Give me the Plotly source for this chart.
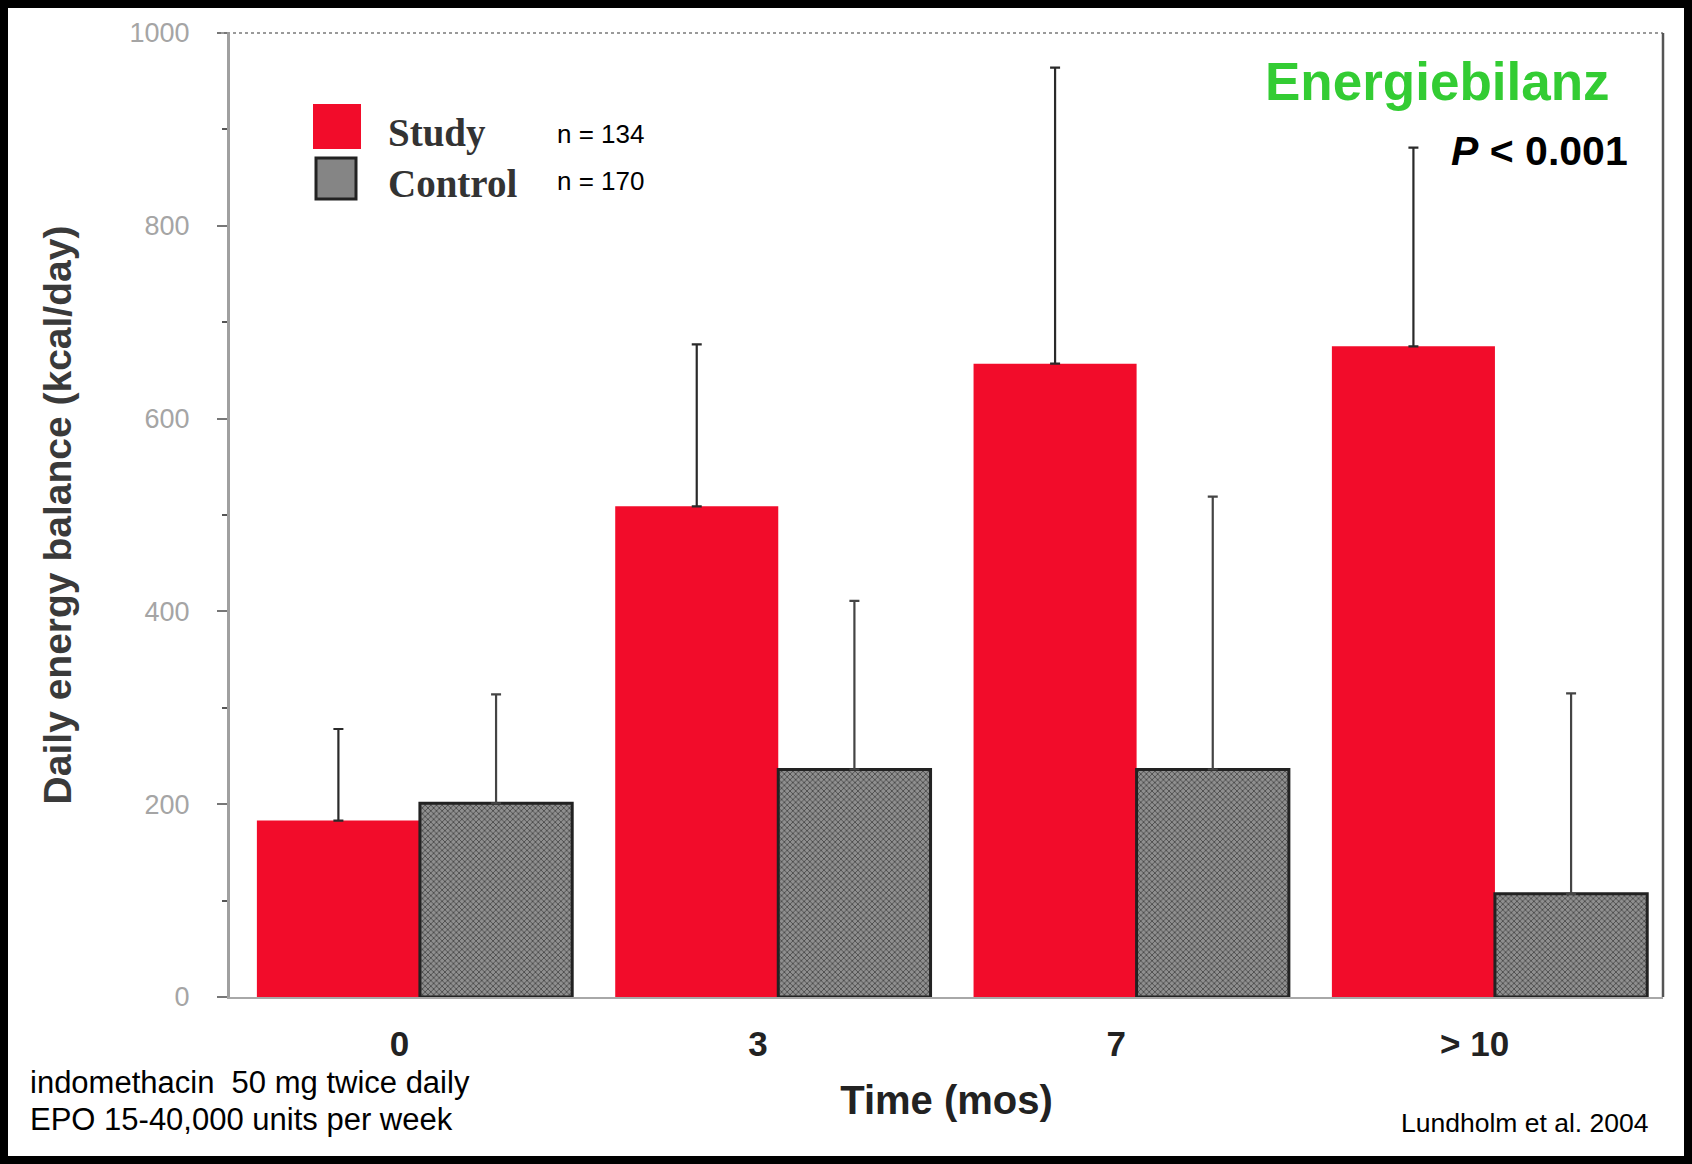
import plotly.graph_objects as go

# ---- data ----
categories = ["0", "3", "7", "> 10"]
study_values = [183, 509, 657, 675]
study_err = [95, 168, 307, 206]
control_values = [201, 236, 236, 107]
control_err = [113, 175, 283, 208]
y_ticks = [0, 200, 400, 600, 800, 1000]

RED = "#F20C2A"
SANS = "Liberation Sans, Arial, sans-serif"
SERIF = "Liberation Serif, Times New Roman, serif"

fig = go.Figure()
fig.add_trace(go.Bar(
    name="Study", x=categories, y=study_values,
    offset=-0.44, width=0.455,
    marker=dict(color=RED, line=dict(width=0)),
    error_y=dict(type="data", array=study_err, arrayminus=[0]*4, symmetric=False,
                 color="#2a2a2a", thickness=2.2, width=5),
))
fig.add_trace(go.Bar(
    name="Control", x=categories, y=control_values,
    offset=0.015, width=0.425,
    marker=dict(color="#8a8a8a", line=dict(color="#222222", width=3),
                pattern=dict(shape="x", size=4, solidity=0.4,
                             fgcolor="#4a4a4a", bgcolor="#8f8f8f")),
    error_y=dict(type="data", array=control_err, arrayminus=[0]*4, symmetric=False,
                 color="#444444", thickness=2.2, width=5),
))

L, R, T, B = 230, 29, 33, 167
W, H = 1692, 1164
pw, ph = W - L - R, H - T - B

def px(x):
    return (x - L) / pw

def py(y):
    return (H - B - y) / ph

shapes = [
    # outer black frame
    dict(type="rect", xref="paper", yref="paper", x0=px(0), x1=px(W), y0=py(H), y1=py(0),
         line=dict(color="black", width=16), fillcolor="rgba(0,0,0,0)", layer="above"),
    # top frame line
    dict(type="line", xref="paper", yref="paper", x0=px(221), x1=1, y0=1, y1=1,
         line=dict(color="#9a9a9a", width=2, dash="dot")),
    # right frame line
    dict(type="line", xref="paper", yref="paper", x0=1, x1=1, y0=0, y1=1,
         line=dict(color="#555555", width=2.5)),
    # legend swatches
    dict(type="rect", xref="paper", yref="paper", x0=px(313), x1=px(361), y0=py(149), y1=py(104),
         fillcolor=RED, line=dict(width=0)),
    dict(type="rect", xref="paper", yref="paper", x0=px(316), x1=px(356), y0=py(199), y1=py(158),
         fillcolor="#858585", line=dict(color="#222222", width=3)),
]

annotations = [
    dict(text="<b>Energiebilanz</b>", x=px(1612), y=py(81), xanchor="right", yanchor="middle",
         font=dict(family=SANS, size=53, color="#33CC33")),
    dict(text="<b><i>P</i> &lt; 0.001</b>", x=px(1630), y=py(151), xanchor="right", yanchor="middle",
         font=dict(family=SANS, size=41, color="black")),
    dict(text="<b>Study</b>", x=px(386), y=py(133), xanchor="left", yanchor="middle",
         font=dict(family=SERIF, size=39, color="#333333")),
    dict(text="<b>Control</b>", x=px(386), y=py(183), xanchor="left", yanchor="middle",
         font=dict(family=SERIF, size=39, color="#333333")),
    dict(text="n = 134", x=px(555), y=py(134), xanchor="left", yanchor="middle",
         font=dict(family=SANS, size=26, color="black")),
    dict(text="n = 170", x=px(555), y=py(181), xanchor="left", yanchor="middle",
         font=dict(family=SANS, size=26, color="black")),
    dict(text="indomethacin  50 mg twice daily", x=px(28), y=py(1082), xanchor="left", yanchor="middle",
         font=dict(family=SANS, size=31, color="black")),
    dict(text="EPO 15-40,000 units per week", x=px(28), y=py(1119), xanchor="left", yanchor="middle",
         font=dict(family=SANS, size=31, color="black")),
    dict(text="Lundholm et al. 2004", x=px(1651), y=py(1123), xanchor="right", yanchor="middle",
         font=dict(family=SANS, size=26.5, color="black")),
]
for a in annotations:
    a.update(xref="paper", yref="paper", showarrow=False)

fig.update_layout(
    template="none",
    width=W, height=H,
    margin=dict(l=L, r=R, t=T, b=B, pad=0),
    paper_bgcolor="white", plot_bgcolor="white",
    barmode="group", bargap=0.12, bargroupgap=0,
    showlegend=False,
    shapes=shapes, annotations=annotations,
    xaxis=dict(
        type="category", range=[-0.515, 3.484], automargin=False,
        showgrid=False, zeroline=False, showline=True, linecolor="#a8a8a8", linewidth=2,
        ticks="", ticklabelstandoff=15, ticklabelshift=-15,
        tickfont=dict(family=SANS, size=35, color="#222222", weight="bold"),
        title=dict(text="Time (mos)", standoff=24,
                   font=dict(family=SANS, size=40, color="#222222", weight="bold")),
    ),
    yaxis=dict(
        range=[0, 1000], automargin=False,
        tickvals=y_ticks, ticktext=[str(v) for v in y_ticks],
        showgrid=False, zeroline=False, showline=True, linecolor="#a0a0a0", linewidth=3,
        ticks="outside", ticklen=10, tickwidth=2, tickcolor="#777777",
        minor=dict(tickvals=[100, 300, 500, 700, 900], ticks="outside", ticklen=5, tickwidth=2,
                   tickcolor="#555555"),
        ticklabelstandoff=22,
        tickfont=dict(family=SANS, size=27, color="#a5a5a5"),
        title=dict(text="Daily energy balance (kcal/day)", standoff=46,
                   font=dict(family=SANS, size=39, color="#3a3a3a", weight="bold")),
    ),
)

fig.write_html("out.html")
